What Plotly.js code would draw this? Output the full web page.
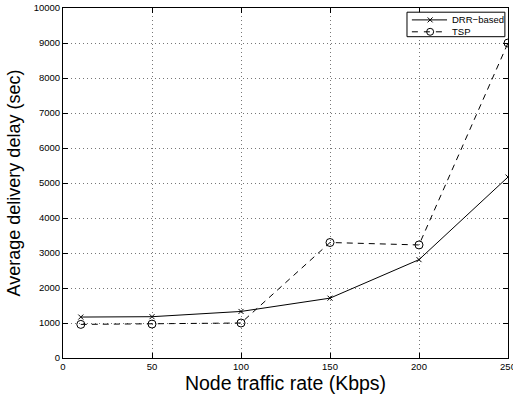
<!DOCTYPE html>
<html><head><meta charset="utf-8">
<script src="https://cdn.plot.ly/plotly-3.0.1.min.js"></script>
<style>html,body{margin:0;padding:0;background:#fff;}#chart{width:513px;height:403px;}</style>
</head><body><div id="chart"></div>
<script>
const rates = [10, 50, 100, 150, 200, 250];
const drrDelay = [1170, 1180, 1330, 1710, 2810, 5170];
const tspDelay = [960, 970, 1000, 3300, 3230, 9000];
const xTicks = [0, 50, 100, 150, 200, 250];
const yTicks = [0, 1000, 2000, 3000, 4000, 5000, 6000, 7000, 8000, 9000, 10000];
const seriesNames = ['DRR\u2212based', 'TSP'];

const font = 'Liberation Sans, Arial, Helvetica, sans-serif';
const traces = [
  {x: rates, y: drrDelay, name: seriesNames[0], type: 'scatter', mode: 'lines+markers',
   line: {color: '#000', width: 1}, marker: {symbol: 'x-thin-open', size: 5, color: '#000', line: {color: '#000', width: 1}}},
  {x: rates, y: tspDelay, name: seriesNames[1], type: 'scatter', mode: 'lines+markers',
   line: {color: '#000', width: 1, dash: '6px,5px'}, marker: {symbol: 'circle-open', size: 8, color: '#000', line: {color: '#000', width: 1}}}
];
const axisCommon = {
  showline: true, mirror: 'allticks', linecolor: '#000', linewidth: 1,
  ticks: 'inside', ticklen: 5, tickcolor: '#000', tickwidth: 1,
  showgrid: true, gridcolor: '#555', griddash: '1px,3px', gridwidth: 0.8,
  zeroline: false, ticklabeloverflow: 'allow',
  tickfont: {family: font, size: 9.5, color: '#000'}
};

// Compact MATLAB-style legend box (paper coordinates)
const lgX0 = 0.773, lgX1 = 0.993, lgY0 = 0.918, lgY1 = 0.988;
const rowY = [0.966, 0.932];
const sampleX0 = 0.784, sampleX1 = 0.863, sampleMid = 0.825, textX = 0.869;
const shapes = [
  {type: 'rect', xref: 'paper', yref: 'paper', x0: lgX0, x1: lgX1, y0: lgY0, y1: lgY1,
   fillcolor: '#fff', line: {color: '#000', width: 1}, layer: 'above'},
  {type: 'line', xref: 'paper', yref: 'paper', x0: sampleX0, x1: sampleX1, y0: rowY[0], y1: rowY[0],
   line: {color: '#000', width: 1}},
  {type: 'line', xref: 'paper', yref: 'paper', xsizemode: 'pixel', ysizemode: 'pixel',
   xanchor: sampleMid, yanchor: rowY[0], x0: -2.5, x1: 2.5, y0: -2.5, y1: 2.5, line: {color: '#000', width: 1}},
  {type: 'line', xref: 'paper', yref: 'paper', xsizemode: 'pixel', ysizemode: 'pixel',
   xanchor: sampleMid, yanchor: rowY[0], x0: -2.5, x1: 2.5, y0: 2.5, y1: -2.5, line: {color: '#000', width: 1}},
  {type: 'line', xref: 'paper', yref: 'paper', x0: sampleX0, x1: sampleX1, y0: rowY[1], y1: rowY[1],
   line: {color: '#000', width: 1, dash: '6px,6px'}},
  {type: 'circle', xref: 'paper', yref: 'paper', xsizemode: 'pixel', ysizemode: 'pixel',
   xanchor: sampleMid, yanchor: rowY[1], x0: -3.5, x1: 3.5, y0: -3.5, y1: 3.5,
   fillcolor: 'rgba(0,0,0,0)', line: {color: '#000', width: 1}}
];
const annotations = seriesNames.map((n, i) => ({
  text: n, xref: 'paper', yref: 'paper', x: textX, y: rowY[i], xanchor: 'left', yanchor: 'middle',
  showarrow: false, font: {family: font, size: 9.5, color: '#000'}
}));

const layout = {
  width: 513, height: 403,
  margin: {l: 63, r: 5, t: 8, b: 45},
  paper_bgcolor: '#fff', plot_bgcolor: '#fff',
  font: {family: font, color: '#000'},
  showlegend: false,
  shapes: shapes, annotations: annotations,
  xaxis: Object.assign({}, axisCommon, {range: [0, 250], tickvals: xTicks, ticktext: xTicks.map(String),
    title: {text: 'Node traffic rate (Kbps)', font: {family: font, size: 19.5, color: '#000'}, standoff: 2}}),
  yaxis: Object.assign({}, axisCommon, {range: [0, 10000], tickvals: yTicks, ticktext: yTicks.map(String),
    title: {text: 'Average delivery delay (sec)', font: {family: font, size: 18, color: '#000'}, standoff: 8}})
};
Plotly.newPlot('chart', traces, layout, {displayModeBar: false, staticPlot: true});
</script></body></html>
